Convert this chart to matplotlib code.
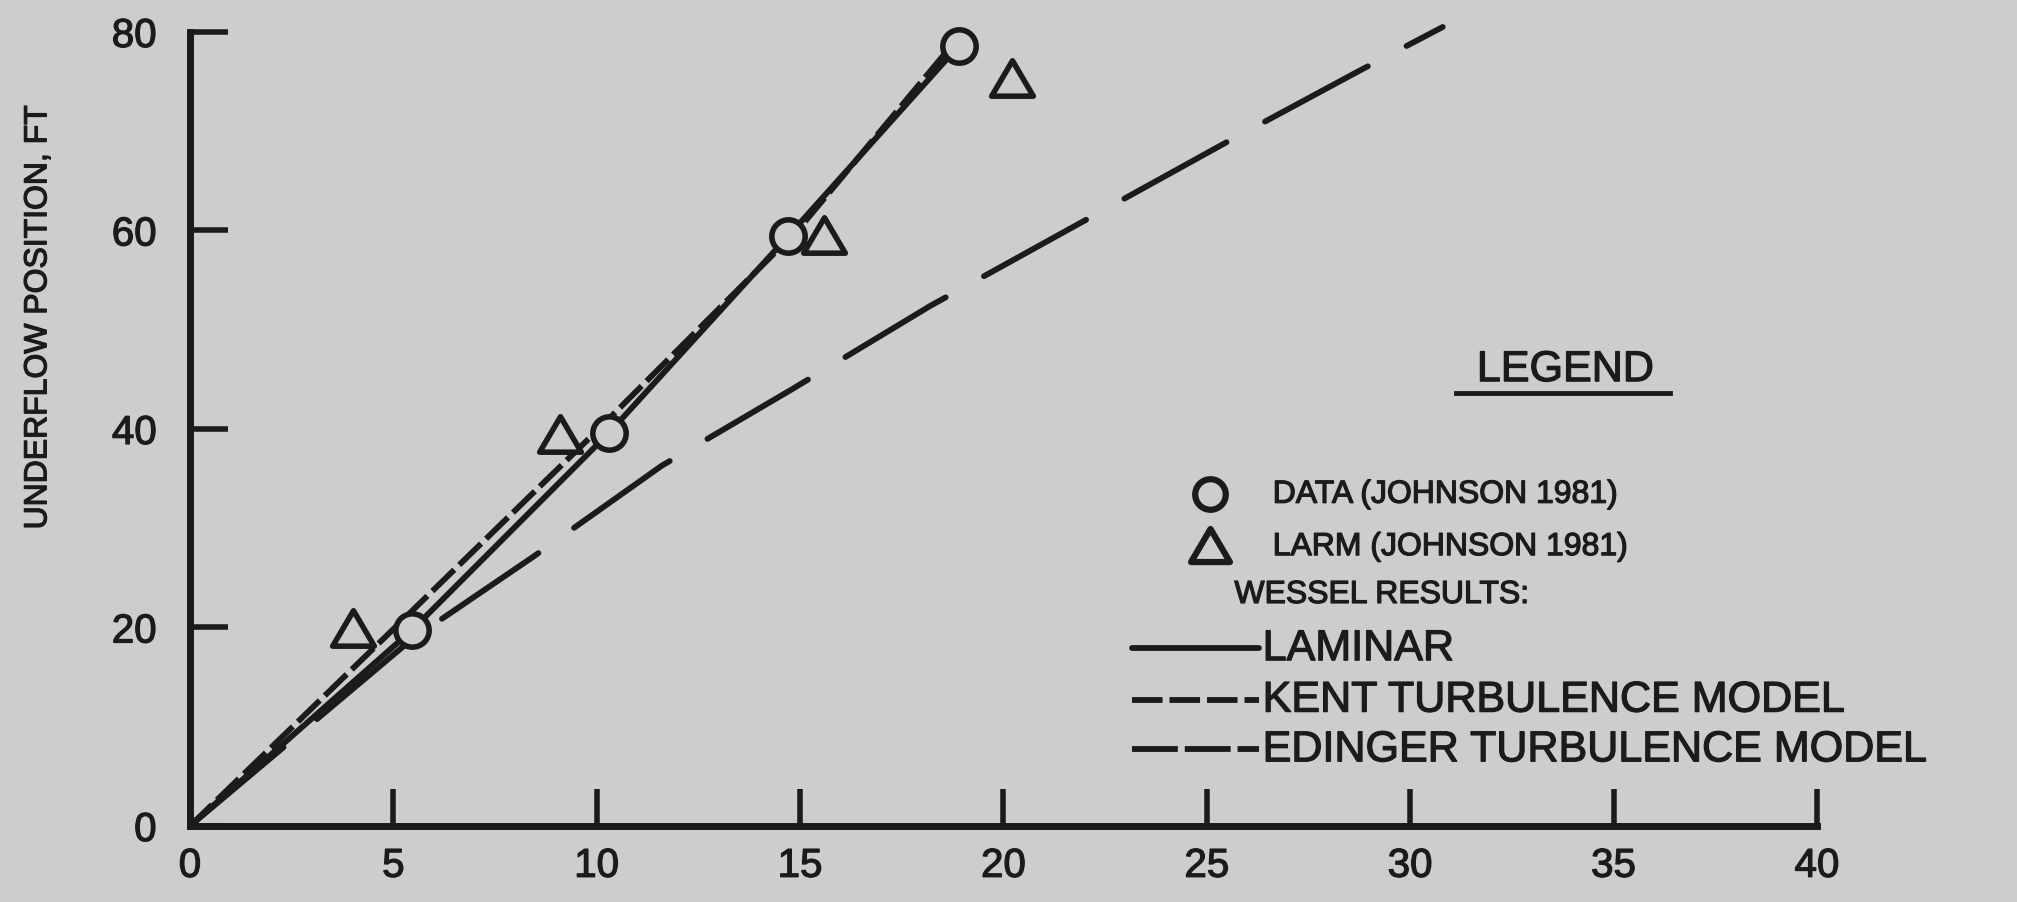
import matplotlib
matplotlib.use('Agg')
import matplotlib.pyplot as plt
from matplotlib.lines import Line2D
from matplotlib.path import Path
import matplotlib.patheffects as pe

plt.rcParams['font.family'] = ['Liberation Sans', 'DejaVu Sans']
plt.rcParams['lines.scale_dashes'] = False

BG = '#cdcecb'
INK = '#1b1b1b'
THICK = [pe.withStroke(linewidth=0.9, foreground=INK)]

# ---- data ----
data_x = [5.45, 10.3, 14.7, 18.9]
data_y = [19.7, 39.6, 59.4, 78.6]
larm_x = [4.0, 9.1, 15.6, 20.2]
larm_y = [19.8, 39.4, 59.4, 75.3]
laminar_x = [0, 5.45, 10.3, 14.7, 18.9]
laminar_y = [0, 19.7, 39.6, 59.4, 78.6]
kent_x = [0, 2.5, 4.74, 10.0, 15.0, 18.8]
kent_y = [0, 9.9, 18.8, 39.8, 60.3, 79.0]
edinger_x = [0, 5.45, 8.43, 11.6, 14.8, 18.2, 21.6, 25.4, 28.8, 30.8]
edinger_y = [0, 18.8, 27.1, 36.3, 44.0, 52.4, 60.1, 68.7, 76.2, 80.5]
xticks = [0, 5, 10, 15, 20, 25, 30, 35, 40]
yticks = [0, 20, 40, 60, 80]

fig = plt.figure(figsize=(20.17, 9.03), dpi=100, facecolor=BG)
ax = fig.add_axes([0.0942, 0.0842, 0.8066, 0.8793])
ax.set_facecolor(BG)
ax.set_xlim(0, 40)
ax.set_ylim(0, 80)

tri = Path([(-1, -0.8), (1, -0.8), (0, 0.9), (-1, -0.8)], closed=True)

LW = 4.2
ax.plot(laminar_x, laminar_y, color=INK, lw=LW, solid_capstyle='round', zorder=3)
ax.plot(kent_x, kent_y, color=INK, lw=LW, dashes=(22, 5), dash_capstyle='butt', zorder=3)
ax.plot(edinger_x, edinger_y, color=INK, lw=LW, ls=(111.5, (84, 31.5)),
        dash_capstyle='round', clip_on=False, zorder=3)
ax.plot(data_x, data_y, ls='none', marker='o', ms=24, mew=4, mec=INK, mfc=BG,
        clip_on=False, zorder=5)
ax.plot(larm_x, larm_y, ls='none', marker=tri, ms=30, mew=4, mec=INK, mfc=BG,
        clip_on=False, zorder=5)

for s in ['top', 'right']:
    ax.spines[s].set_visible(False)
for s in ['left', 'bottom']:
    ax.spines[s].set_linewidth(5)
    ax.spines[s].set_color(INK)
    ax.spines[s].set_capstyle('projecting')

ax.set_xticks(xticks)
ax.set_yticks(yticks)
ax.tick_params(axis='x', direction='in', length=27, width=4, color=INK, pad=15,
               labelsize=29, labelcolor=INK)
ax.tick_params(axis='y', direction='in', length=27, width=4, color=INK, pad=24,
               labelsize=29, labelcolor=INK)
for lab in ax.get_xticklabels() + ax.get_yticklabels():
    lab.set_path_effects(THICK)

fig.text(0.019, 0.648, 'UNDERFLOW POSITION, FT', rotation=90, ha='center', va='center',
         fontsize=23, color=INK, path_effects=THICK)

# ---- legend (hand laid out like the original) ----
fig.text(0.776, 0.589, 'LEGEND', ha='center', va='center', fontsize=31, color=INK,
         path_effects=THICK)
fig.add_artist(Line2D([0.722, 0.828], [0.564, 0.564], transform=fig.transFigure,
                      color=INK, lw=3.5))

fig.add_artist(Line2D([0.600], [0.452], transform=fig.transFigure, ls='none', marker='o',
                      ms=22, mew=4.5, mec=INK, mfc=BG))
fig.text(0.631, 0.451, 'DATA (JOHNSON 1981)', ha='left', va='center', fontsize=23,
         color=INK, path_effects=THICK)
fig.add_artist(Line2D([0.600], [0.394], transform=fig.transFigure, ls='none', marker=tri,
                      ms=28, mew=4.5, mec=INK, mfc=BG))
fig.text(0.631, 0.393, 'LARM (JOHNSON 1981)', ha='left', va='center', fontsize=23,
         color=INK, path_effects=THICK)
fig.text(0.612, 0.340, 'WESSEL RESULTS:', ha='left', va='center', fontsize=23, color=INK,
         path_effects=THICK)

fig.add_artist(Line2D([0.561, 0.624], [0.281, 0.281], transform=fig.transFigure,
                      color=INK, lw=LW, solid_capstyle='round'))
fig.text(0.626, 0.280, 'LAMINAR', ha='left', va='center', fontsize=31, color=INK,
         path_effects=THICK)
fig.add_artist(Line2D([0.561, 0.624], [0.224, 0.224], transform=fig.transFigure,
                      color=INK, lw=LW, dashes=(22, 5), dash_capstyle='butt'))
fig.text(0.626, 0.223, 'KENT TURBULENCE MODEL', ha='left', va='center', fontsize=31,
         color=INK, path_effects=THICK)
fig.add_artist(Line2D([0.561, 0.624], [0.169, 0.169], transform=fig.transFigure,
                      color=INK, lw=LW, dashes=(33, 5), dash_capstyle='butt'))
fig.text(0.626, 0.168, 'EDINGER TURBULENCE MODEL', ha='left', va='center', fontsize=31,
         color=INK, path_effects=THICK)

fig.savefig('out.png', dpi=100, facecolor=BG)
